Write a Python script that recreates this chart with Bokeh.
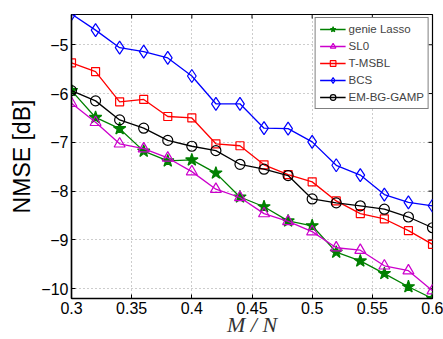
import math
from bokeh.plotting import figure
from bokeh.models import Range1d, FixedTicker, Legend, LegendItem
from bokeh.embed import file_html
from bokeh.resources import INLINE

# ---- data ----
m_over_n = [0.30, 0.32, 0.34, 0.36, 0.38, 0.40, 0.42, 0.44, 0.46, 0.48,
            0.50, 0.52, 0.54, 0.56, 0.58, 0.60]
genie_lasso = [-5.94, -6.49, -6.72, -7.18, -7.38, -7.36, -7.63, -8.12, -8.32, -8.61,
               -8.71, -9.25, -9.43, -9.69, -9.96, -10.20]
sl0 = [-6.20, -6.59, -7.03, -7.13, -7.32, -7.60, -7.96, -8.13, -8.46, -8.62,
       -8.83, -9.16, -9.21, -9.53, -9.63, -10.04]
t_msbl = [-5.37, -5.55, -6.17, -6.12, -6.47, -6.50, -7.03, -7.07, -7.46, -7.66,
          -7.81, -8.20, -8.46, -8.57, -8.81, -9.09]
bcs = [-4.37, -4.70, -5.06, -5.14, -5.27, -5.64, -6.21, -6.21, -6.71, -6.72,
       -6.99, -7.47, -7.67, -8.07, -8.23, -8.30]
em_bg_gamp = [-5.94, -6.15, -6.54, -6.71, -6.96, -7.08, -7.17, -7.45, -7.55, -7.68,
              -8.16, -8.24, -8.30, -8.37, -8.53, -8.75]

x_lim = [0.3, 0.6]
y_lim = [-10.2, -4.38]
x_ticks = [0.3, 0.35, 0.4, 0.45, 0.5, 0.55, 0.6]
x_tick_labels = ["0.3", "0.35", "0.4", "0.45", "0.5", "0.55", "0.6"]
y_ticks = [-10, -9, -8, -7, -6, -5]
y_tick_labels = ["\u221210", "\u22129", "\u22128", "\u22127", "\u22126", "\u22125"]

series = [
    ("genie Lasso", genie_lasso, "#008000", "star", 13, "#008000"),
    ("SL0", sl0, "#cc00cc", "triangle", 11, None),
    ("T-MSBL", t_msbl, "#ff0000", "square", 8, None),
    ("BCS", bcs, "#0000ff", "diamond", 13, None),
    ("EM-BG-GAMP", em_bg_gamp, "#000000", "circle", 10, None),
]

p = figure(width=443, height=339, output_backend="svg", toolbar_location=None,
           x_range=Range1d(*x_lim), y_range=Range1d(*y_lim),
           min_border_left=71, min_border_top=14, min_border_right=11,
           min_border_bottom=41)
p.background_fill_color = "white"
p.border_fill_color = "white"
p.outline_line_color = "black"
p.outline_line_width = 1.2

font = "Liberation Sans"
for ax in (p.xaxis[0], p.yaxis[0]):
    ax.major_label_text_font = font
    ax.major_label_text_font_size = "16px"
    ax.major_label_text_color = "black"
    ax.axis_line_color = "black"
    ax.axis_line_width = 1.5
    ax.major_tick_in = 4
    ax.major_tick_out = 0
    ax.minor_tick_line_color = None
    ax.major_tick_line_color = "black"

p.xaxis[0].ticker = FixedTicker(ticks=x_ticks)
p.xaxis[0].major_label_overrides = dict(zip(x_ticks, x_tick_labels))
p.xaxis[0].major_label_standoff = 3
p.xaxis[0].axis_label = "M / N"
p.xaxis[0].axis_label_text_font = "Liberation Serif"
p.xaxis[0].axis_label_text_font_style = "italic"
p.xaxis[0].axis_label_text_font_size = "22px"
p.xaxis[0].axis_label_standoff = -5
p.xaxis[0].axis_label_text_color = "#333333"

p.yaxis[0].ticker = FixedTicker(ticks=y_ticks)
p.yaxis[0].major_label_overrides = dict(zip(y_ticks, y_tick_labels))
p.yaxis[0].major_label_standoff = 3
p.yaxis[0].axis_label = "NMSE [dB]"
p.yaxis[0].axis_label_text_font = font
p.yaxis[0].axis_label_text_font_style = "normal"
p.yaxis[0].axis_label_text_font_size = "23px"
p.yaxis[0].axis_label_standoff = 3
p.yaxis[0].axis_label_text_color = "black"

for g in (p.xgrid[0], p.ygrid[0]):
    g.grid_line_color = "#9a9a9a"
    g.grid_line_dash = "1 3"
    g.grid_line_width = 1

# inward box ticks on the top and right frame edges (half of each dash is clipped)
p.scatter(x_ticks, [y_lim[1]] * len(x_ticks), marker="dash", angle=math.pi / 2,
          size=8, line_color="black", line_width=1)
p.scatter([x_lim[1]] * len(y_ticks), y_ticks, marker="dash",
          size=8, line_color="black", line_width=1)

items = []
for name, ys, color, marker, size, fill in series:
    r1 = p.line(m_over_n, ys, line_color=color, line_width=1.3)
    r2 = p.scatter(m_over_n, ys, marker=marker, size=size, line_color=color,
                   line_width=1.2, fill_color=fill)
    items.append(LegendItem(label=name, renderers=[r1, r2]))

legend = Legend(items=items, location="top_right")
legend.label_text_font = font
legend.label_text_font_size = "11.5px"
legend.label_height = 14
legend.glyph_height = 14
legend.glyph_width = 26
legend.spacing = 3
legend.padding = 4
legend.margin = 3
legend.label_standoff = 3
legend.border_line_color = "black"
legend.border_line_width = 1.2
legend.background_fill_alpha = 1
p.add_layout(legend)

open("out.html", "w").write(file_html(p, INLINE))
